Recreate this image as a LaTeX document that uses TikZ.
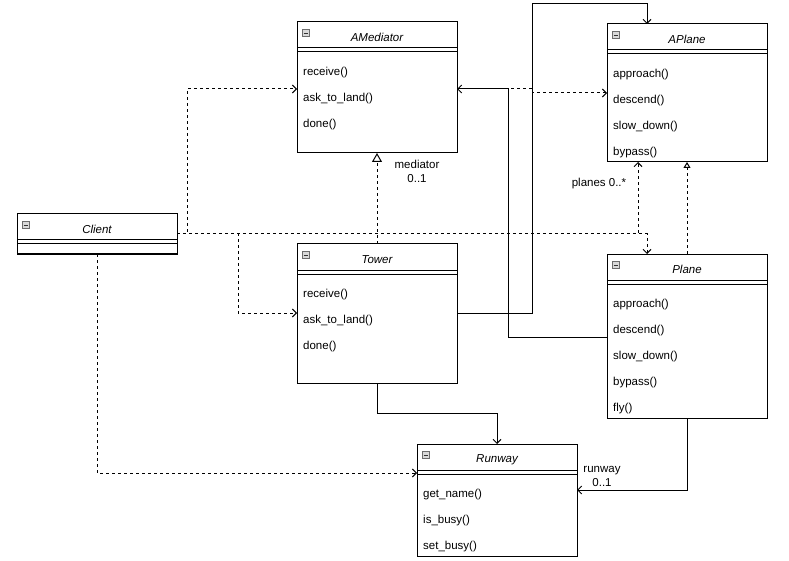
\documentclass[tikz,border=0pt]{standalone}
\usepackage{fontspec}
\setmainfont{Liberation Sans}
\usetikzlibrary{arrows.meta,calc}
\tikzset{
  box/.style={draw, line width=1pt, fill=white, minimum width=160pt, inner sep=0pt, outer sep=0pt, anchor=north west},
  ttl/.style={font=\fontsize{11.5}{13}\selectfont\itshape, inner sep=0pt},
  mth/.style={font=\fontsize{11.5}{13}\selectfont, inner sep=0pt, anchor=west},
  lbl/.style={font=\fontsize{11.5}{14}\selectfont, inner sep=0pt, align=center},
  sep/.style={line width=1pt},
  dep/.style={line width=1pt, dash pattern=on 3pt off 3pt, -{Straight Barb[length=4pt,width=8pt]}},
  assoc/.style={line width=1pt, -{Straight Barb[length=4pt,width=8pt]}},
  real/.style={line width=1pt, dash pattern=on 3pt off 3pt, -{Triangle[open,length=9pt,width=10pt,fill=white]}},
  realsmall/.style={line width=1pt, dash pattern=on 3pt off 3pt, -{Triangle[open,length=6pt,width=7pt,fill=white]}},
  icon/.style={draw=gray!85!black, fill=gray!30, line width=0.5pt, minimum size=7pt, inner sep=0pt}
}
\newcommand\umlclass[6]{%
  \node[box, minimum height=#4pt] (#1) at (#2,#3) {};
  \node[ttl] (#1-title) at (#2+80,#3+15.5) {#5};
  \draw[sep] (#2,#3+26) -- ++(160,0) (#2,#3+30) -- ++(160,0);
  \node[icon] (#1-icon) at (#2+8.5,#3+11) {};
  \draw[line width=0.8pt, gray!40!black] (#2+6.5,#3+11) -- (#2+10.5,#3+11);
  \foreach \m [count=\i] in {#6} {
    \node[mth] (#1-m\i) at (#2+6,#3+25+26*\i) {\m};
  }
}
\begin{document}
\begin{tikzpicture}[x=1pt,y=-1pt]
\useasboundingbox (0,0) rectangle (789,561);

\umlclass{AMediator}{297}{22}{131}{AMediator}{receive(),ask\_to\_land(),done()}
\umlclass{APlane}{607}{24}{138}{APlane}{approach(),descend(),slow\_down(),bypass()}
\umlclass{Client}{17}{214}{40}{Client}{}
\umlclass{Tower}{297}{244}{139}{Tower}{receive(),ask\_to\_land(),done()}
\umlclass{Plane}{607}{254}{164}{Plane}{approach(),descend(),slow\_down(),bypass(),fly()}
\umlclass{Runway}{417}{444}{112}{Runway}{get\_name(),is\_busy(),set\_busy()}

% realizations
\draw[real] (Tower.north) -- (AMediator.south);
\draw[realsmall] (Plane.north) -- (APlane.south);

% dependencies from Client
\draw[dep] (Client.east) -- ++(10,0) |- ($(AMediator.north west)+(0,67)$);
\draw[dep] (Client.east) -- ++(61,0) |- ($(Tower.north west)+(0,69)$);
\draw[dep] (Client.east) -| ($(Plane.north west)+(40,0)$);
\draw[dep] (Client.east) -| ($(APlane.south west)+(31,0)$);
\draw[dep] (Client.south) |- ($(Runway.north west)+(0,29)$);
\draw[dep] ($(AMediator.north east)+(0,67)$) -- ++(75,0) -- ++(0,4) -- ($(APlane.north west)+(0,69)$);

% associations
\draw[assoc] (Tower.south) -- ++(0,30) -| (Runway.north);
\draw[assoc] (Plane.south) |- ($(Runway.north east)+(0,46)$);
\draw[assoc] ($(Tower.north east)+(0,69)$) -- ++(75,0) -- ++(0,-309) -| ($(APlane.north west)+(40,0)$);
\draw[assoc] ($(Plane.north west)+(0,83)$) -- ++(-99,0) -- ++(0,-248) -- ($(AMediator.north east)+(0,67)$);

% labels
\node[lbl] (medlbl) at (417,171) {mediator\\0..1};
\node[lbl] (planeslbl) at (599,184) {planes 0..*};
\node[lbl] (rwlbl) at (602,476) {runway\\0..1};
\end{tikzpicture}
\end{document}
